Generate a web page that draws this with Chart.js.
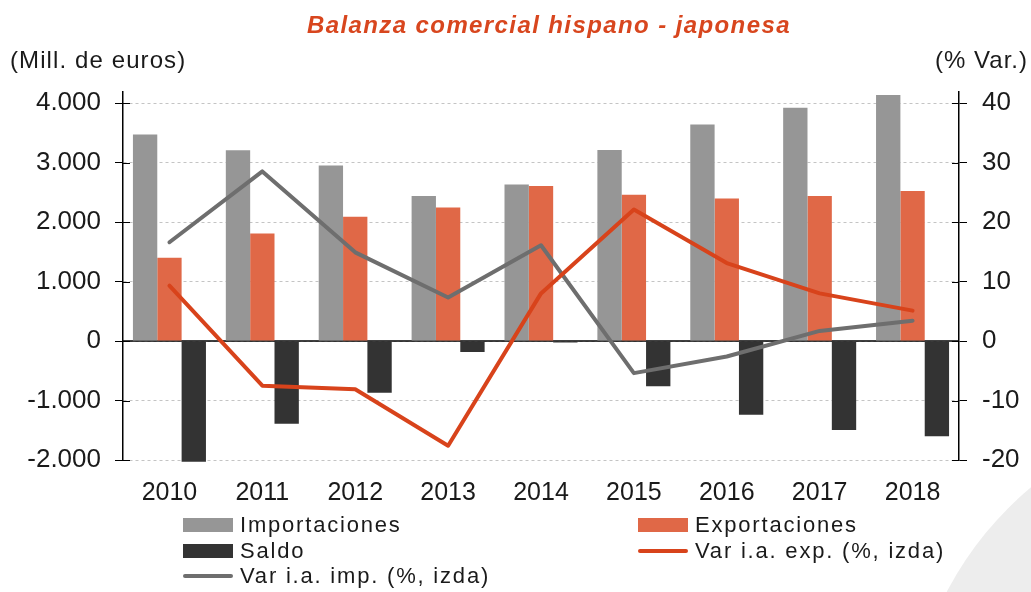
<!DOCTYPE html>
<html>
<head>
<meta charset="utf-8">
<script src="https://cdn.jsdelivr.net/npm/chart.js@4.4.1/dist/chart.umd.min.js"></script>
<style>
  html, body { margin: 0; padding: 0; background: #fff; }
  #wrap { position: relative; width: 1031px; height: 592px; overflow: hidden; font-family: 'Liberation Sans', Arial, sans-serif; }
  #deco { position: absolute; left: 908px; top: 408px; width: 684px; height: 684px; border-radius: 50%; background: #ededed; }
  canvas { position: absolute; left: 0; top: 0; }
  .txt { position: absolute; white-space: nowrap; color: #1a1a1a; }
  #title { left: 307px; top: 13px; font-size: 24px; line-height: 24px; font-weight: bold; font-style: italic; color: #d8461e; letter-spacing: 1.4px; }
  #unitL { left: 10px; top: 48px; font-size: 24px; line-height: 24px; letter-spacing: 1.1px; }
  #unitR { right: 3px; top: 48px; font-size: 24px; line-height: 24px; letter-spacing: 1px; }
  .leg { position: absolute; height: 22px; font-size: 22px; line-height: 22px; letter-spacing: 1.8px; color: #1a1a1a; white-space: nowrap; }
  .leg i { position: absolute; left: 0; }
  .leg span { position: absolute; left: 57px; top: 0; }
</style>
</head>
<body>
<div id="wrap">
  <div id="deco"></div>
  <canvas id="c" width="1031" height="592"></canvas>
  <div class="txt" id="title">Balanza comercial hispano - japonesa</div>
  <div class="txt" id="unitL">(Mill. de euros)</div>
  <div class="txt" id="unitR">(% Var.)</div>
  <div id="legend"></div>
</div>
<script>
const years = ['2010', '2011', '2012', '2013', '2014', '2015', '2016', '2017', '2018'];
const importaciones = [3470, 3205, 2950, 2435, 2630, 3210, 3640, 3920, 4135];
const exportaciones = [1400, 1805, 2090, 2245, 2605, 2460, 2395, 2435, 2520];
const saldo = [-2030, -1390, -870, -185, -25, -760, -1240, -1495, -1600];
const varExp = [9.3, -7.5, -8.1, -17.6, 8.0, 22.1, 13.1, 8.0, 5.1];
const varImp = [16.6, 28.5, 14.9, 7.3, 16.1, -5.4, -2.6, 1.7, 3.4];
const leftTicks = [-2000, -1000, 0, 1000, 2000, 3000, 4000];
const rightTicks = [-20, -10, 0, 10, 20, 30, 40];

const FONT = "'Liberation Sans', Arial, sans-serif";

function fmtMiles(v){
  const s = Math.abs(v).toString().replace(/\B(?=(\d{3})+(?!\d))/g, '.');
  return (v < 0 ? '-' : '') + s;
}

// zero line + ticks crossing the axes
const axisExtras = {
  id: 'axisExtras',
  beforeDatasetsDraw(chart){
    const {ctx, chartArea, scales} = chart;
    const y0 = scales.y.getPixelForValue(0);
    ctx.save();
    ctx.strokeStyle = '#000';
    ctx.lineWidth = 1.5;
    ctx.beginPath();
    ctx.moveTo(chartArea.left, y0);
    ctx.lineTo(chartArea.right, y0);
    ctx.stroke();
    ctx.restore();
  },
  afterDraw(chart){
    const {ctx, chartArea, scales} = chart;
    ctx.save();
    ctx.strokeStyle = '#000';
    ctx.lineWidth = 1;
    ctx.beginPath();
    leftTicks.forEach(v => {
      const p = Math.round(scales.y.getPixelForValue(v)) + 0.5;
      ctx.moveTo(chartArea.left, p); ctx.lineTo(chartArea.left + 7, p);
    });
    rightTicks.forEach(v => {
      const p = Math.round(scales.y2.getPixelForValue(v)) + 0.5;
      ctx.moveTo(chartArea.right - 7, p); ctx.lineTo(chartArea.right, p);
    });
    ctx.stroke();
    ctx.restore();
  }
};

const ctx = document.getElementById('c');
const chart = new Chart(ctx, {
  type: 'bar',
  data: {
    labels: years,
    datasets: [
      { label: 'Importaciones', data: importaciones, backgroundColor: '#969696', yAxisID: 'y', order: 1 },
      { label: 'Exportaciones', data: exportaciones, backgroundColor: '#e06847', yAxisID: 'y', order: 1 },
      { label: 'Saldo', data: saldo, backgroundColor: '#333333', yAxisID: 'y', order: 1, clip: false },
      { type: 'line', label: 'Var i.a. exp. (%, izda)', data: varExp, borderColor: '#d8431b', backgroundColor: '#d8431b',
        borderWidth: 4, pointRadius: 0, tension: 0, borderCapStyle: 'round', borderJoinStyle: 'round', yAxisID: 'y2', order: 0 },
      { type: 'line', label: 'Var i.a. imp. (%, izda)', data: varImp, borderColor: '#6e6e6e', backgroundColor: '#6e6e6e',
        borderWidth: 4, pointRadius: 0, tension: 0, borderCapStyle: 'round', borderJoinStyle: 'round', yAxisID: 'y2', order: 0 }
    ]
  },
  options: {
    responsive: false,
    animation: false,
    layout: { padding: { top: 92, left: 0, right: 0, bottom: 0 } },
    plugins: { legend: { display: false }, tooltip: { enabled: false }, title: { display: false } },
    datasets: { bar: { categoryPercentage: 0.786, barPercentage: 1 } },
    scales: {
      x: {
        grid: { display: false },
        border: { display: false },
        ticks: { color: '#1a1a1a', font: { family: FONT, size: 25 }, padding: 10, maxRotation: 0 },
        afterFit(s){ s.height = 132; }
      },
      y: {
        position: 'left',
        min: -2000, max: 4185,
        afterBuildTicks(s){ s.ticks = leftTicks.map(v => ({ value: v })); },
        grid: { color: '#c4c4c4', lineWidth: 1, tickColor: '#000', tickLength: 8, tickBorderDash: [] },
        border: { display: true, color: '#000', width: 1.5, dash: [3, 3] },
        ticks: { color: '#1a1a1a', font: { family: FONT, size: 26 }, padding: 14, callback: v => fmtMiles(v) },
        afterFit(s){ s.width = 123; }
      },
      y2: {
        position: 'right',
        min: -20, max: 41.85,
        afterBuildTicks(s){ s.ticks = rightTicks.map(v => ({ value: v })); },
        grid: { drawOnChartArea: false, color: '#000', tickLength: 8 },
        border: { display: true, color: '#000', width: 1.5 },
        ticks: { color: '#1a1a1a', font: { family: FONT, size: 26 }, padding: 15, callback: v => String(v) },
        afterFit(s){ s.width = 72; }
      }
    }
  },
  plugins: [axisExtras]
});

// two-column legend built from the datasets
const legendCols = [183, 638];
const legendRows = [514, 539.5, 565];
const legendEl = document.getElementById('legend');
chart.data.datasets.forEach((ds, i) => {
  const item = document.createElement('div');
  item.className = 'leg';
  item.style.left = legendCols[i % 2] + 'px';
  item.style.top = legendRows[Math.floor(i / 2)] + 'px';
  const sw = document.createElement('i');
  if (ds.type === 'line') {
    sw.style.cssText = 'top:9px;width:50px;height:4px;border-radius:2px;background:' + ds.borderColor;
  } else {
    sw.style.cssText = 'top:4px;width:50px;height:14px;background:' + ds.backgroundColor;
  }
  const tx = document.createElement('span');
  tx.textContent = ds.label;
  item.appendChild(sw);
  item.appendChild(tx);
  legendEl.appendChild(item);
});
</script>
</body>
</html>
